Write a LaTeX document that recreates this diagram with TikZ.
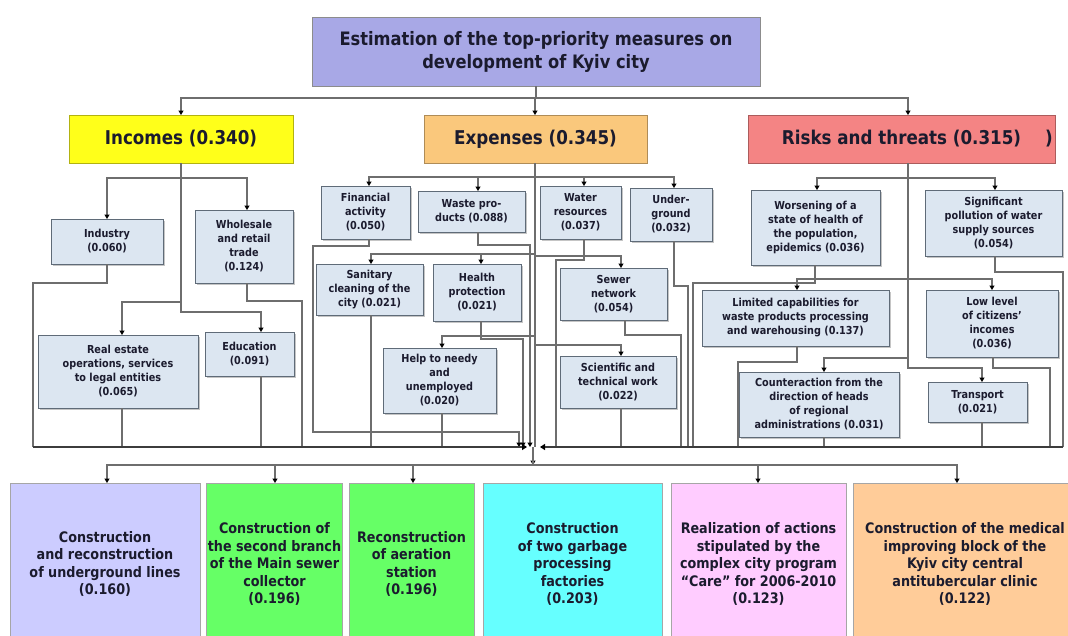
\documentclass[tikz,border=0pt]{standalone}
\usepackage{fontspec}
\setmainfont{DejaVu Sans}[FakeStretch=0.88]
\usetikzlibrary{arrows.meta,shadows}

\definecolor{ink}{HTML}{1B1B2E}
\definecolor{wire}{HTML}{6E6E6E}
\definecolor{busgray}{HTML}{3C3C3C}
\definecolor{cellfill}{HTML}{DCE6F1}
\definecolor{celledge}{HTML}{5F6B78}
\definecolor{titlefill}{HTML}{A8A8E6}
\definecolor{incfill}{HTML}{FFFF1A}
\definecolor{expfill}{HTML}{FAC87C}
\definecolor{riskfill}{HTML}{F48484}
\definecolor{lav}{HTML}{CCCCFF}
\definecolor{grn}{HTML}{66FF66}
\definecolor{cyn}{HTML}{66FFFF}
\definecolor{pnk}{HTML}{FFCCFF}
\definecolor{pch}{HTML}{FFCC99}

\begin{document}
\begin{tikzpicture}[x=1pt,y=-1pt,
  conn/.style={draw=wire, line width=1.1pt},
  arr/.style={conn, -{Triangle[length=4.5pt,width=5pt,color=black]}},
  busline/.style={draw=busgray, line width=2.2pt},
  cell/.style={draw=celledge, fill=cellfill, line width=1pt, align=center,
    inner sep=1pt, outer sep=0pt, text=ink,
    font=\bfseries\fontsize{11}{14}\selectfont,
    drop shadow={shadow xshift=1.5pt, shadow yshift=-1.5pt, fill=black!45, opacity=.5}},
  headbox/.style={draw=#1!70!black, fill=#1, line width=1pt, align=center,
    inner sep=1pt, outer sep=0pt, text=ink,
    font=\bfseries\fontsize{19}{22}\selectfont},
  goal/.style={draw=black!35, fill=#1, line width=0.8pt, align=center,
    inner sep=1pt, outer sep=0pt, text=ink, minimum height=162pt,
    font=\bfseries\fontsize{14.5}{17.5}\selectfont}
]
\useasboundingbox (0,0) rectangle (1068,635);

% ---------- top level ----------
\node[draw=black!45, fill=titlefill, line width=1pt, align=center, text=ink,
  inner sep=1pt, outer sep=0pt, minimum width=448pt, minimum height=69pt,
  font=\bfseries\fontsize{18.5}{23}\selectfont] (title) at (536,51.5)
  {Estimation of the top-priority measures on\\development of Kyiv city};

\node[headbox=incfill, minimum width=224pt, minimum height=48pt] (incomes) at (181,139) {Incomes (0.340)};
\node[headbox=expfill, minimum width=223pt, minimum height=48pt] (expenses) at (535.5,139) {Expenses (0.345)};
\node[headbox=riskfill, minimum width=307pt, minimum height=48pt] (risks) at (901.5,139) {Risks and threats (0.315)\rlap{\hspace{24pt})}};

% ---------- incomes ----------
\node[cell, minimum width=112pt, minimum height=45pt] (industry) at (107,241.5) {Industry\\(0.060)};
\node[cell, minimum width=98pt, minimum height=73pt] (wholesale) at (244,246.5) {Wholesale\\and retail\\trade\\(0.124)};
\node[cell, minimum width=160pt, minimum height=73pt] (realestate) at (118,371.5) {Real estate\\operations, services\\to legal entities\\(0.065)};
\node[cell, minimum width=89pt, minimum height=44pt] (education) at (249.5,354) {Education\\(0.091)};

% ---------- expenses ----------
\node[cell, minimum width=89pt, minimum height=53pt] (financial) at (365.5,212.5) {Financial\\activity\\(0.050)};
\node[cell, minimum width=107pt, minimum height=41pt] (waste) at (471.5,211.5) {Waste pro-\\ducts (0.088)};
\node[cell, minimum width=81pt, minimum height=53pt] (water) at (580.5,212.5) {Water\\resources\\(0.037)};
\node[cell, minimum width=82pt, minimum height=53pt] (underground) at (671,214.5) {Under-\\ground\\(0.032)};
\node[cell, minimum width=107pt, minimum height=51pt] (sanitary) at (369.5,289.5) {Sanitary\\cleaning of the\\city (0.021)};
\node[cell, minimum width=88pt, minimum height=57pt] (health) at (477,292.5) {Health\\protection\\(0.021)};
\node[cell, minimum width=107pt, minimum height=52pt] (sewer) at (613.5,294) {Sewer\\network\\(0.054)};
\node[cell, minimum width=113pt, minimum height=65pt] (help) at (439.5,380.5) {Help to needy\\and\\unemployed\\(0.020)};
\node[cell, minimum width=116pt, minimum height=52pt] (science) at (618,382) {Scientific and\\technical work\\(0.022)};

% ---------- risks ----------
\node[cell, minimum width=129pt, minimum height=75pt] (worsening) at (815.5,227.5) {Worsening of a\\state of health of\\the population,\\epidemics (0.036)};
\node[cell, minimum width=137pt, minimum height=66pt] (pollution) at (993.5,223) {Significant\\pollution of water\\supply sources\\(0.054)};
\node[cell, minimum width=187pt, minimum height=56pt] (limited) at (795.5,318) {Limited capabilities for\\waste products processing\\and warehousing (0.137)};
\node[cell, minimum width=132pt, minimum height=67pt] (lowincome) at (992,323.5) {Low level\\of citizens'\\incomes\\(0.036)};
\node[cell, minimum width=160pt, minimum height=65pt] (counter) at (819,404.5) {Counteraction from the\\direction of heads\\of regional\\administrations (0.031)};
\node[cell, minimum width=99pt, minimum height=40pt] (transport) at (977.5,402) {Transport\\(0.021)};

% ---------- measures ----------
\node[goal=lav, minimum width=190pt] (m1) at (105,564) {Construction\\and reconstruction\\of underground lines\\(0.160)};
\node[goal=grn, minimum width=127pt] (m2) at (274.5,564) {Construction of\\the second branch\\of the Main sewer\\collector\\(0.196)};
\node[goal=grn, minimum width=125pt] (m3) at (411.5,564) {Reconstruction\\of aeration\\station\\(0.196)};
\node[goal=cyn, minimum width=179pt] (m4) at (572.5,564) {Construction\\of two garbage\\processing\\factories\\(0.203)};
\node[goal=pnk, minimum width=175pt] (m5) at (758.5,564) {Realization of actions\\stipulated by the\\complex city program\\``Care'' for 2006-2010\\(0.123)};
\node[goal=pch, minimum width=224pt] (m6) at (965,564) {Construction of the medical\\improving block of the\\Kyiv city central\\antitubercular clinic\\(0.122)};

\coordinate (hub) at (533,447);

% ---------- title to groups ----------
\draw[arr] (title.south) |- (181,98) -- (incomes.north);
\draw[arr] (title.south) |- (535,98) -- (535,0 |- expenses.north);
\draw[arr] (title.south) |- (908,98) -- (908,0 |- risks.north);

% ---------- incomes wiring ----------
\draw[arr] (incomes.south) |- (107,178) -- (industry.north);
\draw[arr] (incomes.south) |- (247,178) -- (247,0 |- wholesale.north);
\draw[arr] (incomes.south) |- (122,302) -- (122,0 |- realestate.north);
\draw[arr] (incomes.south) |- (261,312) -- (261,0 |- education.north);
\draw[conn] (industry.south) |- (33,283) -- (33,0 |- hub);
\draw[conn] (122,0 |- realestate.south) -- (122,0 |- hub);
\draw[conn] (261,0 |- education.south) -- (261,0 |- hub);
\draw[conn] (247,0 |- wholesale.south) |- (302,301) -- (302,0 |- hub);

% ---------- expenses wiring ----------
\draw[conn] (535,0 |- expenses.south) -- (535,0 |- hub);
\draw[arr] (535,0 |- expenses.south) |- (369,177) -- (369,0 |- financial.north);
\draw[arr] (535,0 |- expenses.south) |- (478,177) -- (478,0 |- waste.north);
\draw[arr] (535,0 |- expenses.south) |- (584,177) -- (584,0 |- water.north);
\draw[arr] (535,0 |- expenses.south) |- (674,177) -- (674,0 |- underground.north);
\draw[arr] (535,0 |- expenses.south) |- (371,254) -- (371,0 |- sanitary.north);
\draw[arr] (535,0 |- expenses.south) |- (481,254) -- (481,0 |- health.north);
\draw[arr] (535,0 |- expenses.south) |- (621,256) -- (621,0 |- sewer.north);
\draw[arr] (535,0 |- expenses.south) |- (442,336) -- (442,0 |- help.north);
\draw[arr] (535,0 |- expenses.south) |- (621,345) -- (621,0 |- science.north);

\draw[arr] (369,0 |- financial.south) |- (313,246) |- (519,432) -- (519,0 |- hub);
\draw[arr] (478,0 |- waste.south) |- (530,245) -- (530,0 |- hub);
\draw[conn] (371,0 |- sanitary.south) -- (371,0 |- hub);
\draw[arr] (481,0 |- health.south) |- (523,339) -- (523,0 |- hub);
\draw[conn] (442,0 |- help.south) -- (442,0 |- hub);
\draw[conn] (584,0 |- water.south) |- (556,260) -- (556,0 |- hub);
\draw[conn] (625,0 |- sewer.south) |- (681,335) -- (681,0 |- hub);
\draw[conn] (674,0 |- underground.south) |- (688,286) -- (688,0 |- hub);
\draw[conn] (621,0 |- science.south) -- (621,0 |- hub);

% ---------- risks wiring ----------
\draw[arr] (908,0 |- risks.south) |- (817,178) -- (817,0 |- worsening.north);
\draw[arr] (908,0 |- risks.south) |- (995,178) -- (995,0 |- pollution.north);
\draw[arr] (908,0 |- risks.south) |- (797,279) -- (797,0 |- limited.north);
\draw[arr] (908,0 |- risks.south) |- (992,279) -- (992,0 |- lowincome.north);
\draw[arr] (908,0 |- risks.south) |- (824,358) -- (824,0 |- counter.north);
\draw[arr] (908,0 |- risks.south) |- (982,368) -- (982,0 |- transport.north);

\draw[conn] (815,0 |- worsening.south) |- (693,283) -- (693,0 |- hub);
\draw[conn] (995,0 |- pollution.south) |- (1063,272) -- (1063,0 |- hub);
\draw[conn] (797,0 |- limited.south) |- (738,362) -- (738,0 |- hub);
\draw[conn] (993,0 |- lowincome.south) |- (1050,368) -- (1050,0 |- hub);
\draw[conn] (824,0 |- counter.south) -- (824,0 |- hub);
\draw[conn] (982,0 |- transport.south) -- (982,0 |- hub);

% ---------- collector bus ----------
\draw[busline, -{Triangle[length=5pt,width=6pt,color=black]}] (33,0 |- hub) -- (527,0 |- hub);
\draw[busline, -{Triangle[length=5pt,width=6pt,color=black]}] (1063,0 |- hub) -- (540,0 |- hub);

% ---------- distribution to measures ----------
\draw[arr] (hub) -- (533,465);
\draw[arr] (hub) |- (107,465) -- (107,0 |- m1.north);
\draw[arr] (hub) |- (275,465) -- (275,0 |- m2.north);
\draw[arr] (hub) |- (413,465) -- (413,0 |- m3.north);
\draw[arr] (hub) |- (758,465) -- (758,0 |- m5.north);
\draw[arr] (hub) |- (957,465) -- (957,0 |- m6.north);
\end{tikzpicture}
\end{document}
